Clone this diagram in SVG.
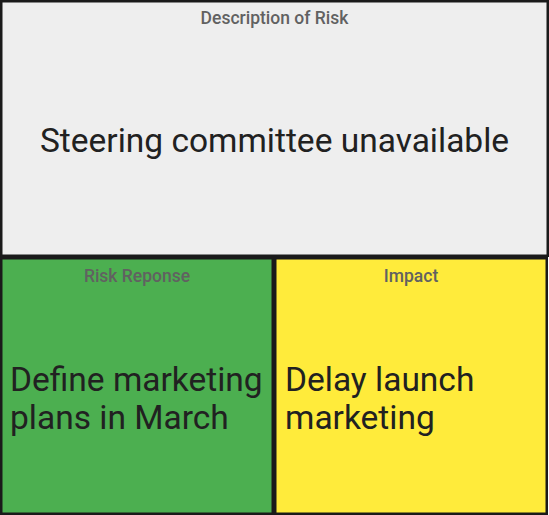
<svg xmlns="http://www.w3.org/2000/svg" width="549" height="515" viewBox="0 0 549 515">
<style>
.box{stroke:#1a1a1a;stroke-width:2.5}
.lbl{font-family:Roboto,"Liberation Sans",sans-serif;font-size:17.5px;font-weight:500;fill:#616161;text-anchor:middle}
.big{font-family:Roboto,"Liberation Sans",sans-serif;font-size:33.5px;fill:#212121}
</style>
<g id="description">
<rect class="box" x="1.25" y="1.25" width="546.5" height="254.5" fill="#eeeeee"/>
<text class="lbl" x="274.5" y="24">Description of Risk</text>
<text class="big" x="274.5" y="152" text-anchor="middle">Steering committee unavailable</text>
</g>
<g id="response">
<rect class="box" x="1.25" y="258.25" width="271.5" height="255.5" fill="#4caf50"/>
<text class="lbl" x="137" y="282">Risk Reponse</text>
<text class="big" x="10" y="391">Define marketing</text>
<text class="big" x="10" y="429">plans in March</text>
</g>
<g id="impact">
<rect class="box" x="275.25" y="258.25" width="271.5" height="255.5" fill="#ffeb3b"/>
<text class="lbl" x="411" y="282">Impact</text>
<text class="big" x="285" y="391">Delay launch</text>
<text class="big" x="285" y="429">marketing</text>
</g>
<g id="connectors"/>
</svg>
